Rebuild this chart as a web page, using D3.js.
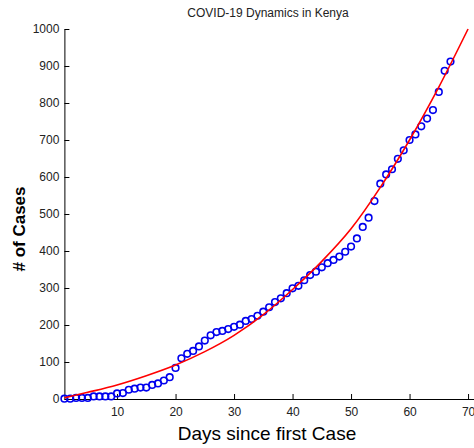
<!DOCTYPE html>
<html>
<head>
<meta charset="utf-8">
<script src="https://cdn.jsdelivr.net/npm/d3@7"></script>
<style>
  html, body { margin: 0; padding: 0; background: #fff; }
  svg { display: block; }
  text { font-family: "Liberation Sans", Arial, sans-serif; }
</style>
</head>
<body>
<div id="chart"></div>
<script>
// ---- data ----
const title = "COVID-19 Dynamics in Kenya";
const xLabel = "Days since first Case";
const yLabel = "# of Cases";

// observed cumulative cases, day 1..67
const days = d3.range(1, 68);
const cases = [1, 1, 3, 3, 3, 7, 7, 7, 7, 15, 16, 25, 28, 31, 31, 38, 42, 50, 59,
  84, 110, 122, 130, 142, 158, 172, 181, 184, 189, 195, 201, 211, 216, 225, 236, 248,
  262, 272, 286, 299, 306, 321, 335, 344, 356, 367, 376, 385, 398, 412, 434, 465, 490,
  535, 582, 607, 621, 649, 672, 700, 715, 737, 758, 781, 830, 887, 912];

// fitted model curve
const fitDays = [1, 5, 10, 15, 20, 25, 30, 35, 40, 45, 50, 55, 60, 65, 70];
const fitValues = [3, 18, 38, 63, 92, 128, 172, 228, 296, 372, 460, 572, 700, 843, 1000];

const xTicks = [10, 20, 30, 40, 50, 60, 70];
const yTicks = [0, 100, 200, 300, 400, 500, 600, 700, 800, 900, 1000];

// ---- drawing ----
const W = 474, H = 448;
const svg = d3.select("#chart").append("svg").attr("width", W).attr("height", H);

const x = d3.scaleLinear().domain([1, 71]).range([64.4, 473.9]);
const y = d3.scaleLinear().domain([0, 1000]).range([399, 29]);

// axes (ticks pointing inward)
const xAxis = d3.axisBottom(x).tickValues(xTicks).tickFormat(d3.format("d"))
  .tickSizeInner(-5).tickSizeOuter(0).tickPadding(8);
const yAxis = d3.axisLeft(y).tickValues(yTicks).tickFormat(d3.format("d"))
  .tickSizeInner(-5).tickSizeOuter(0).tickPadding(5);

const gx = svg.append("g").attr("transform", `translate(0,${y(0)})`).call(xAxis);
const gy = svg.append("g").attr("transform", `translate(${x(1)},0)`).call(yAxis);
[gx, gy].forEach(g => {
  g.select(".domain").attr("stroke", "#000").attr("stroke-width", 1);
  g.selectAll(".tick line").attr("stroke", "#000");
  g.selectAll(".tick text").attr("fill", "#222").attr("font-size", 12)
    .attr("font-family", "'Liberation Sans', Arial, sans-serif");
});

// data markers
svg.append("g").selectAll("circle")
  .data(days.map((d, i) => [d, cases[i]]))
  .join("circle")
  .attr("cx", d => x(d[0]))
  .attr("cy", d => y(d[1]))
  .attr("r", 3.3)
  .attr("fill", "none")
  .attr("stroke", "#0000ee")
  .attr("stroke-width", 1.6);

// fitted curve
const line = d3.line().x(d => x(d[0])).y(d => y(d[1])).curve(d3.curveMonotoneX);
svg.append("path")
  .datum(fitDays.map((d, i) => [d, fitValues[i]]))
  .attr("d", line)
  .attr("fill", "none")
  .attr("stroke", "#ff0000")
  .attr("stroke-width", 1.6);

// texts
svg.append("text").attr("x", 268).attr("y", 17).attr("text-anchor", "middle")
  .attr("font-size", 12).attr("fill", "#222").text(title);
svg.append("text").attr("x", 267).attr("y", 440).attr("text-anchor", "middle")
  .attr("font-size", 19).attr("fill", "#000").text(xLabel);
svg.append("text").attr("transform", "translate(25,229) rotate(-90)").attr("text-anchor", "middle")
  .attr("font-size", 17).attr("font-weight", "bold").attr("fill", "#000").text(yLabel);
</script>
</body>
</html>
